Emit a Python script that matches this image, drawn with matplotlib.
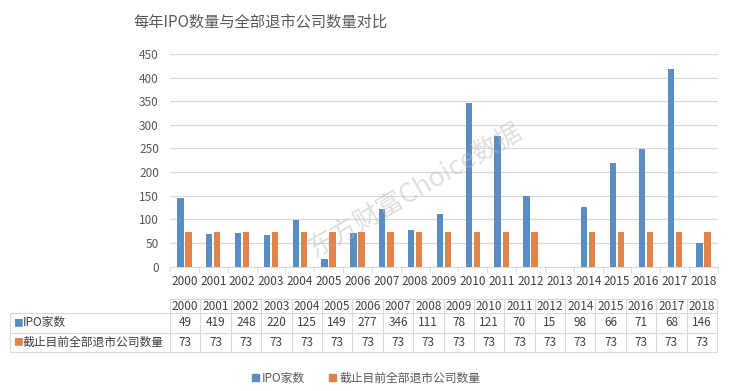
import numpy as np
import matplotlib
matplotlib.use("Agg")
import matplotlib.pyplot as plt
from matplotlib.patches import Patch

plt.rcParams['font.family'] = ['Noto Sans CJK SC', 'DejaVu Sans']

# bar chart data (as drawn)
years = ['2000', '2001', '2002', '2003', '2004', '2005', '2006', '2007', '2008', '2009',
         '2010', '2011', '2012', '2013', '2014', '2015', '2016', '2017', '2018']
ipo = [146, 68, 71, 66, 98, 15, 70, 121, 78, 111, 346, 277, 149, np.nan, 125, 220, 248, 419, 49]
delisted = [73, 73, 73, 73, 73, 73, 73, 73, 73, 73, 73, 73, 73, np.nan, 73, 73, 73, 73, 73]

# data table below the chart (as printed)
tbl_years = ['2000', '2001', '2002', '2003', '2004', '2005', '2006', '2007', '2008',
             '2009', '2010', '2011', '2012', '2014', '2015', '2016', '2017', '2018']
tbl_ipo = [49, 419, 248, 220, 125, 149, 277, 346, 111, 78, 121, 70, 15, 98, 66, 71, 68, 146]
tbl_delisted = [73] * 18

name_ipo = 'IPO家数'
name_del = '截止目前全部退市公司数量'
title = '每年IPO数量与全部退市公司数量对比'

BLUE = '#5A8DC3'
ORANGE = '#E1834A'
GRID = '#d9d9d9'
TXT = '#595959'
DARK = '#404040'

W, H = 730, 391
fig = plt.figure(figsize=(W / 100, H / 100), dpi=100)

# main chart
ax = fig.add_axes([170 / W, 1 - 266.5 / H, (718 - 170) / W, (266.5 - 54) / H])
x = np.arange(len(years))
bw = 0.22
ax.bar(x - 0.14, ipo, bw, color=BLUE, zorder=3)
ax.bar(x + 0.14, delisted, bw, color=ORANGE, zorder=3)

ax.set_ylim(0, 450)
ax.set_yticks(range(0, 451, 50))
ax.set_xlim(-0.5, len(years) - 0.5)
ax.set_xticks(x)
ax.set_xticklabels(years)
ax.set_xticks(np.arange(-0.5, len(years), 1), minor=True)
ax.grid(axis='y', color=GRID, linewidth=0.8, zorder=0)
for s in ['top', 'right', 'left']:
    ax.spines[s].set_visible(False)
ax.spines['bottom'].set_color(GRID)
ax.tick_params(axis='y', length=0, pad=8, labelsize=8.5, labelcolor=TXT)
ax.tick_params(axis='x', which='major', length=0, pad=6, labelsize=8.5, labelcolor=DARK)
ax.tick_params(axis='x', which='minor', length=4, color=GRID)

fig.text(260 / W, 1 - 22 / H, title, ha='center', va='center', fontsize=11, color=TXT)

# watermark
fig.text(415 / W, 1 - 190 / H, '东方财富Choice数据', ha='center', va='center',
         rotation=30, fontsize=19, color='#b8b8b8', alpha=0.45, zorder=10)

# data table, laid out in pixel coordinates on an overlay axes
tax = fig.add_axes([0, 0, 1, 1])
tax.set_xlim(0, W)
tax.set_ylim(H, 0)
tax.axis('off')

left, col0, right = 10, 170, 717
y_top, y_h, y_r1, y_bot = 299, 313, 332.5, 352
cw = (right - col0) / len(tbl_years)

tax.hlines(y_top, col0, right, color=GRID, lw=0.8)
tax.hlines([y_h, y_r1, y_bot], left, right, color=GRID, lw=0.8)
tax.vlines(left, y_h, y_bot, color=GRID, lw=0.8)
tax.vlines([col0 + k * cw for k in range(len(tbl_years) + 1)], y_top, y_bot, color=GRID, lw=0.8)

for k, (yr, a, b) in enumerate(zip(tbl_years, tbl_ipo, tbl_delisted)):
    cx = col0 + (k + 0.5) * cw
    tax.text(cx, (y_top + y_h) / 2, yr, ha='center', va='center', fontsize=8.5, color=DARK)
    tax.text(cx, (y_h + y_r1) / 2, str(a), ha='center', va='center', fontsize=8.5, color=DARK)
    tax.text(cx, (y_r1 + y_bot) / 2, str(b), ha='center', va='center', fontsize=8.5, color=DARK)

for (ya, yb), name, col in [((y_h, y_r1), name_ipo, BLUE), ((y_r1, y_bot), name_del, ORANGE)]:
    cy = (ya + yb) / 2
    tax.text(13, cy, '■', ha='left', va='center', fontsize=7, color=col)
    tax.text(23, cy, name, ha='left', va='center', fontsize=8.5, color=DARK)

# legend
handles = [Patch(color=BLUE), Patch(color=ORANGE)]
leg = fig.legend(handles, [name_ipo, name_del], loc='center',
                 bbox_to_anchor=(366 / W, 1 - 378 / H), ncol=2, frameon=False,
                 fontsize=8.5, handlelength=0.6, handleheight=0.6,
                 handletextpad=0.3, columnspacing=2.0)
for t in leg.get_texts():
    t.set_color(TXT)

fig.savefig('out.png', dpi=100, facecolor='white')
